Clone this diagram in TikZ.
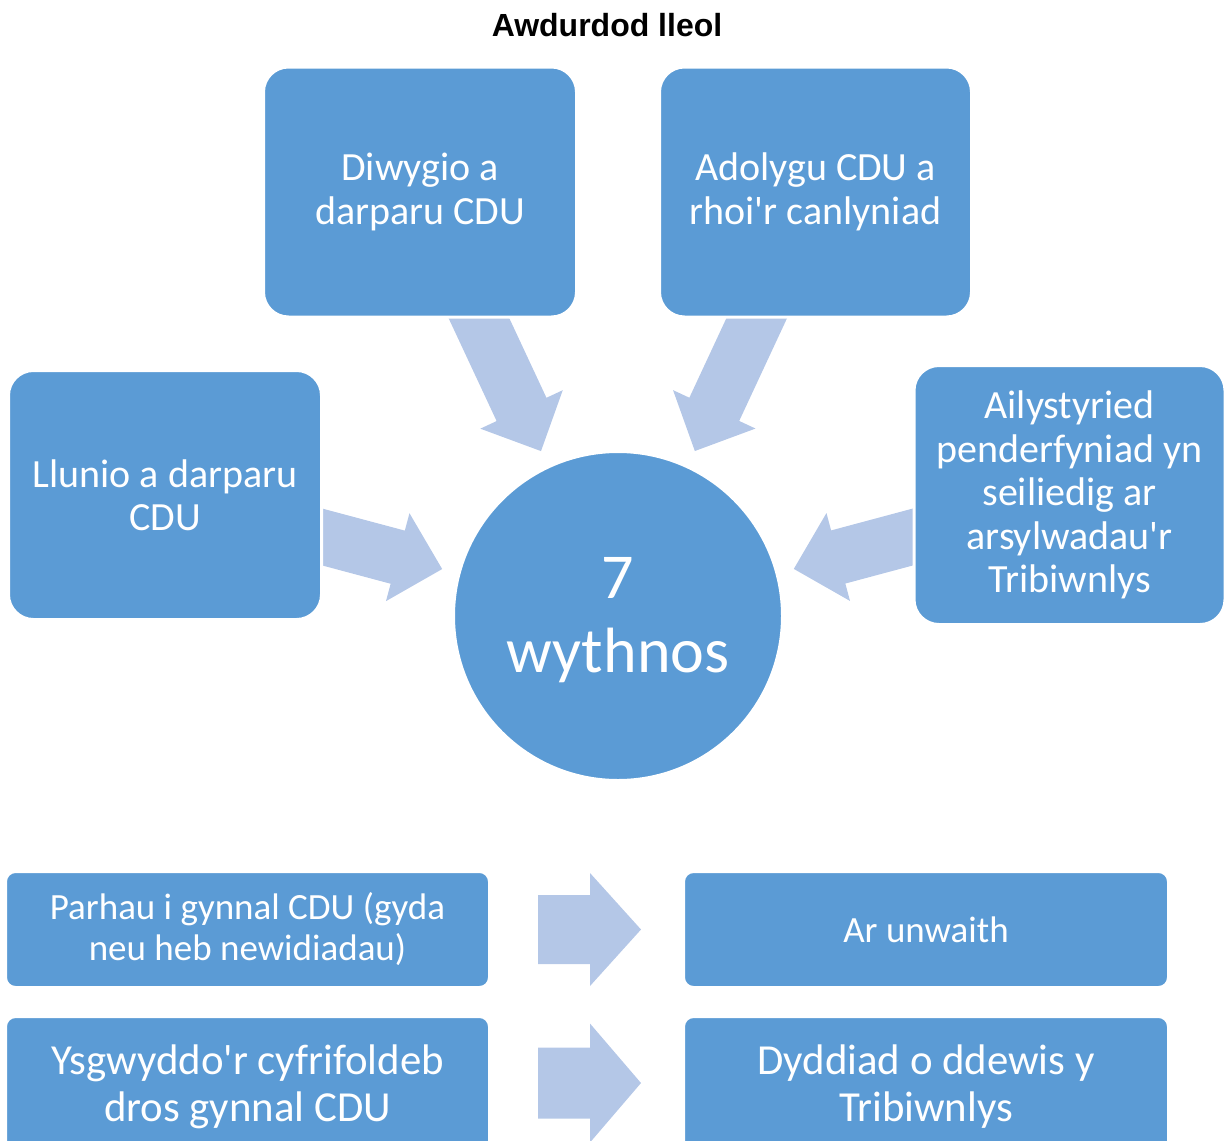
\documentclass[tikz,border=0pt]{standalone}
\usepackage{fontspec}
\setmainfont{Carlito}[Ligatures=TeXOff]
\newfontfamily\arialfont{Liberation Sans}
\usetikzlibrary{calc}
\definecolor{boxblue}{HTML}{5B9BD5}
\definecolor{arrowblue}{HTML}{B4C7E7}
\pgfdeclarelayer{background}
\pgfsetlayers{background,main}

% fat arrow: \fatarrow{tail}{tip}{half shaft}{half head}{head length}
\newcommand{\fatarrow}[5]{%
  \coordinate (#2-base) at ($(#2)!#5!(#1)$);
  \fill[arrowblue] ($(#1)!#3!90:(#2)$) -- ($(#2-base)!#3!90:(#2)$)
    -- ($(#2-base)!#4!90:(#2)$) -- (#2) -- ($(#2-base)!#4!-90:(#2)$)
    -- ($(#2-base)!#3!-90:(#2)$) -- ($(#1)!#3!-90:(#2)$) -- cycle;
}

\begin{document}
\begin{tikzpicture}[x=0.5pt,y=-0.5pt,
  stepbox/.style={rectangle, rounded corners=12.5pt, fill=boxblue, draw=white,
    line width=1.5pt, text=white, align=center, inner sep=0pt,
    font=\fontsize{20}{21.75}\selectfont},
  listbox/.style={stepbox, rounded corners=5pt, minimum width=242pt},
  hub/.style={circle, fill=boxblue, draw=white, line width=1.5pt, text=white,
    align=center, inner sep=0pt, minimum size=164.5pt,
    font=\fontsize{32}{37}\selectfont}]
\useasboundingbox (0,0) rectangle (1224,1140);
\clip (0,0) rectangle (1224,1140);

\node[font=\arialfont\bfseries\fontsize{16}{18}\selectfont] (title) at (607,25) {Awdurdod lleol};

% the hub and the four steps round it
\node[hub] (hub) at (618,616) {\rule{0pt}{25pt}7\\wythnos};
\node[stepbox, minimum width=156.5pt, minimum height=125pt] (diwygio) at (420,192) {Diwygio a\\darparu CDU};
\node[stepbox, minimum width=156pt, minimum height=125pt] (adolygu) at (815.5,192) {Adolygu CDU a\\rhoi'r canlyniad};
\node[stepbox, minimum width=156.5pt, minimum height=124.5pt] (llunio) at (165,495) {Llunio a darparu\\CDU};
\node[stepbox, minimum width=155.5pt, minimum height=129.5pt] (ailyst) at (1069.5,495) {Ailystyried\\penderfyniad yn\\seiliedig ar\\arsylwadau'r\\Tribiwnlys};

\begin{pgfonlayer}{background}
\foreach \b in {diwygio,adolygu,llunio,ailyst}{
  \coordinate (\b-tip) at ($(hub)!91pt!(\b)$);
  \fatarrow{\b}{\b-tip}{13.75pt}{22.75pt}{23pt}
}
\end{pgfonlayer}

% list below
\node[listbox, minimum height=58pt, font=\fontsize{18.5}{20.5}\selectfont] (parhau) at (247.5,929.5) {Parhau i gynnal CDU (gyda\\neu heb newidiadau)};
\node[listbox, minimum width=242.5pt, minimum height=58pt, font=\fontsize{18.5}{20.5}\selectfont] (unwaith) at (926,929.5) {Ar unwaith};
\node[listbox, minimum height=70pt, font=\fontsize{21.4}{23.5}\selectfont] (ysgwyddo) at (247.5,1086.5) {Ysgwyddo'r cyfrifoldeb\\dros gynnal CDU};
\node[listbox, minimum width=242.5pt, minimum height=70pt, font=\fontsize{21.4}{23.5}\selectfont] (dyddiad) at (926,1086.5) {Dyddiad o ddewis y\\Tribiwnlys};

\coordinate (r1-tail) at ($(parhau.east)+(47,0)$);
\coordinate (r1-tip) at ($(unwaith.west)+(-41,0)$);
\fatarrow{r1-tail}{r1-tip}{17.25pt}{28.25pt}{25.5pt}
\coordinate (r2-tail) at ($(ysgwyddo.east)+(47,-3.5)$);
\coordinate (r2-tip) at ($(dyddiad.west)+(-41,-3.5)$);
\fatarrow{r2-tail}{r2-tip}{17.75pt}{29.75pt}{25.5pt}
\end{tikzpicture}
\end{document}
